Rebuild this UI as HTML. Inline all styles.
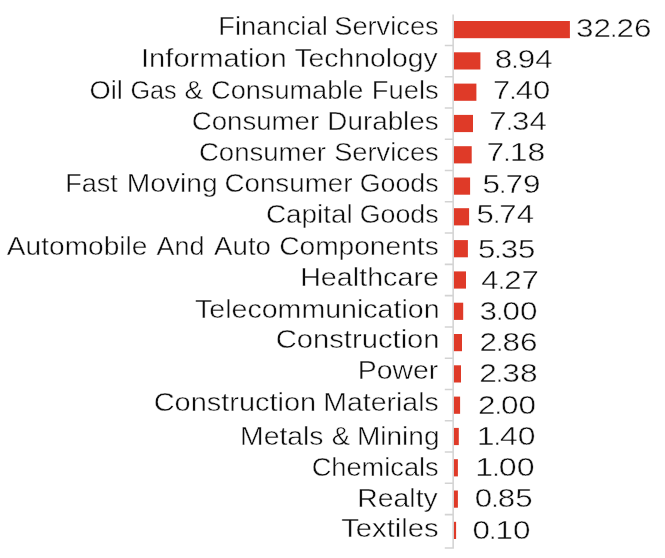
<!DOCTYPE html>
<html lang="en"><head><meta charset="utf-8"><title>Sector allocation</title>
<style>
html,body{margin:0;padding:0;background:#fff}
body{width:665px;height:558px;overflow:hidden}
svg{display:block;will-change:transform}
text{font-family:"Liberation Sans",sans-serif;font-size:25px;fill:#0d0d0d;stroke:#fff;stroke-width:.42px}
.ax{stroke:#d3d3d3;stroke-width:1.55;fill:none}
.b{fill:#df3a28}
</style></head><body>
<svg width="665" height="558" viewBox="0 0 665 558">
<rect width="665" height="558" fill="#fff"/>
<g>
<rect class="b" x="453.6" y="21.00" width="116.30" height="17.2"/>
<rect class="b" x="453.6" y="52.30" width="26.80" height="17.2"/>
<rect class="b" x="453.6" y="83.60" width="22.80" height="17.2"/>
<rect class="b" x="453.6" y="114.90" width="19.40" height="17.2"/>
<rect class="b" x="453.6" y="146.20" width="18.10" height="17.2"/>
<rect class="b" x="453.6" y="177.50" width="16.50" height="17.2"/>
<rect class="b" x="453.6" y="208.20" width="15.50" height="17.2"/>
<rect class="b" x="453.6" y="240.10" width="14.30" height="17.2"/>
<rect class="b" x="453.6" y="271.40" width="12.40" height="17.2"/>
<rect class="b" x="453.6" y="302.70" width="9.60" height="17.2"/>
<rect class="b" x="453.6" y="334.00" width="8.40" height="17.2"/>
<rect class="b" x="453.6" y="365.30" width="7.40" height="17.2"/>
<rect class="b" x="453.6" y="396.60" width="6.50" height="17.2"/>
<rect class="b" x="453.6" y="427.90" width="5.20" height="17.2"/>
<rect class="b" x="453.6" y="459.20" width="4.30" height="17.2"/>
<rect class="b" x="453.6" y="490.50" width="4.30" height="17.2"/>
<rect class="b" x="453.6" y="521.80" width="2.50" height="17.2"/>
</g>
<path class="ax" d="M453.15 14.5V548.0M444.8 45.40H453.15M444.8 76.68H453.15M444.8 107.96H453.15M444.8 139.24H453.15M444.8 170.52H453.15M444.8 201.80H453.15M444.8 233.08H453.15M444.8 264.36H453.15M444.8 295.64H453.15M444.8 326.92H453.15M444.8 358.20H453.15M444.8 389.48H453.15M444.8 420.76H453.15M444.8 452.04H453.15M444.8 483.32H453.15M444.8 514.60H453.15M444.8 548.0H453.9"/>
<g>
<text y="35"><tspan x="218.26" textLength="109.47" lengthAdjust="spacingAndGlyphs">Financial</tspan> <tspan x="334.26" textLength="104.42" lengthAdjust="spacingAndGlyphs">Services</tspan></text>
<text y="67"><tspan x="141.01" textLength="145.78" lengthAdjust="spacingAndGlyphs">Information</tspan> <tspan x="294.46" textLength="143.29" lengthAdjust="spacingAndGlyphs">Technology</tspan></text>
<text y="99"><tspan x="89.61" textLength="33.31" lengthAdjust="spacingAndGlyphs">Oil</tspan> <tspan x="130.43" textLength="46.18" lengthAdjust="spacingAndGlyphs">Gas</tspan> <tspan x="184.41" textLength="18.83" lengthAdjust="spacingAndGlyphs">&amp;</tspan> <tspan x="211.12" textLength="152.28" lengthAdjust="spacingAndGlyphs">Consumable</tspan> <tspan x="371.75" textLength="66.93" lengthAdjust="spacingAndGlyphs">Fuels</tspan></text>
<text y="130"><tspan x="191.80" textLength="127.36" lengthAdjust="spacingAndGlyphs">Consumer</tspan> <tspan x="327.32" textLength="111.39" lengthAdjust="spacingAndGlyphs">Durables</tspan></text>
<text y="161"><tspan x="198.90" textLength="127.16" lengthAdjust="spacingAndGlyphs">Consumer</tspan> <tspan x="334.16" textLength="104.52" lengthAdjust="spacingAndGlyphs">Services</tspan></text>
<text y="192"><tspan x="65.28" textLength="52.62" lengthAdjust="spacingAndGlyphs">Fast</tspan> <tspan x="126.89" textLength="90.83" lengthAdjust="spacingAndGlyphs">Moving</tspan> <tspan x="224.49" textLength="127.97" lengthAdjust="spacingAndGlyphs">Consumer</tspan> <tspan x="359.75" textLength="78.91" lengthAdjust="spacingAndGlyphs">Goods</tspan></text>
<text y="223"><tspan x="265.93" textLength="86.83" lengthAdjust="spacingAndGlyphs">Capital</tspan> <tspan x="359.75" textLength="78.91" lengthAdjust="spacingAndGlyphs">Goods</tspan></text>
<text y="255"><tspan x="6.85" textLength="140.60" lengthAdjust="spacingAndGlyphs">Automobile</tspan> <tspan x="156.45" textLength="47.99" lengthAdjust="spacingAndGlyphs">And</tspan> <tspan x="214.05" textLength="56.92" lengthAdjust="spacingAndGlyphs">Auto</tspan> <tspan x="279.17" textLength="159.55" lengthAdjust="spacingAndGlyphs">Components</tspan></text>
<text y="286"><tspan x="300.15" textLength="138.83" lengthAdjust="spacingAndGlyphs">Healthcare</tspan></text>
<text y="318"><tspan x="195.06" textLength="244.50" lengthAdjust="spacingAndGlyphs">Telecommunication</tspan></text>
<text y="348"><tspan x="275.72" textLength="163.88" lengthAdjust="spacingAndGlyphs">Construction</tspan></text>
<text y="379"><tspan x="357.77" textLength="80.40" lengthAdjust="spacingAndGlyphs">Power</tspan></text>
<text y="411"><tspan x="153.73" textLength="162.45" lengthAdjust="spacingAndGlyphs">Construction</tspan> <tspan x="323.37" textLength="115.36" lengthAdjust="spacingAndGlyphs">Materials</tspan></text>
<text y="445"><tspan x="240.02" textLength="83.50" lengthAdjust="spacingAndGlyphs">Metals</tspan> <tspan x="331.73" textLength="18.51" lengthAdjust="spacingAndGlyphs">&amp;</tspan> <tspan x="356.90" textLength="82.61" lengthAdjust="spacingAndGlyphs">Mining</tspan></text>
<text y="476"><tspan x="311.72" textLength="126.96" lengthAdjust="spacingAndGlyphs">Chemicals</tspan></text>
<text y="507"><tspan x="357.37" textLength="80.38" lengthAdjust="spacingAndGlyphs">Realty</tspan></text>
<text y="537"><tspan x="341.24" textLength="97.51" lengthAdjust="spacingAndGlyphs">Textiles</tspan></text>
</g>
<g>
<text y="37"><tspan x="576.10" textLength="34.94" lengthAdjust="spacingAndGlyphs">32</tspan><tspan x="610.32">.</tspan><tspan x="616.54" textLength="34.94" lengthAdjust="spacingAndGlyphs">26</tspan></text>
<text y="68"><tspan x="494.73" textLength="17.50" lengthAdjust="spacingAndGlyphs">8</tspan><tspan x="511.50">.</tspan><tspan x="517.73" textLength="34.99" lengthAdjust="spacingAndGlyphs">94</tspan></text>
<text y="99"><tspan x="492.91" textLength="17.29" lengthAdjust="spacingAndGlyphs">7</tspan><tspan x="509.47">.</tspan><tspan x="515.69" textLength="34.57" lengthAdjust="spacingAndGlyphs">40</tspan></text>
<text y="130"><tspan x="489.25" textLength="17.35" lengthAdjust="spacingAndGlyphs">7</tspan><tspan x="505.88">.</tspan><tspan x="512.10" textLength="34.71" lengthAdjust="spacingAndGlyphs">34</tspan></text>
<text y="161"><tspan x="486.56" textLength="17.78" lengthAdjust="spacingAndGlyphs">7</tspan><tspan x="503.61">.</tspan><tspan x="509.84" textLength="35.55" lengthAdjust="spacingAndGlyphs">18</tspan></text>
<text y="193"><tspan x="482.54" textLength="17.50" lengthAdjust="spacingAndGlyphs">5</tspan><tspan x="499.31">.</tspan><tspan x="505.54" textLength="35.00" lengthAdjust="spacingAndGlyphs">79</tspan></text>
<text y="223"><tspan x="476.55" textLength="17.30" lengthAdjust="spacingAndGlyphs">5</tspan><tspan x="493.13">.</tspan><tspan x="499.36" textLength="34.60" lengthAdjust="spacingAndGlyphs">74</tspan></text>
<text y="258"><tspan x="477.90" textLength="17.34" lengthAdjust="spacingAndGlyphs">5</tspan><tspan x="494.51">.</tspan><tspan x="500.74" textLength="34.67" lengthAdjust="spacingAndGlyphs">35</tspan></text>
<text y="289"><tspan x="481.38" textLength="17.36" lengthAdjust="spacingAndGlyphs">4</tspan><tspan x="498.02">.</tspan><tspan x="504.25" textLength="34.72" lengthAdjust="spacingAndGlyphs">27</tspan></text>
<text y="320"><tspan x="479.60" textLength="17.47" lengthAdjust="spacingAndGlyphs">3</tspan><tspan x="496.35">.</tspan><tspan x="502.58" textLength="34.95" lengthAdjust="spacingAndGlyphs">00</tspan></text>
<text y="351"><tspan x="479.57" textLength="17.47" lengthAdjust="spacingAndGlyphs">2</tspan><tspan x="496.31">.</tspan><tspan x="502.54" textLength="34.94" lengthAdjust="spacingAndGlyphs">86</tspan></text>
<text y="382"><tspan x="479.21" textLength="17.59" lengthAdjust="spacingAndGlyphs">2</tspan><tspan x="496.07">.</tspan><tspan x="502.30" textLength="35.18" lengthAdjust="spacingAndGlyphs">38</tspan></text>
<text y="414"><tspan x="478.02" textLength="17.50" lengthAdjust="spacingAndGlyphs">2</tspan><tspan x="494.79">.</tspan><tspan x="501.02" textLength="35.01" lengthAdjust="spacingAndGlyphs">00</tspan></text>
<text y="445"><tspan x="476.72" textLength="17.78" lengthAdjust="spacingAndGlyphs">1</tspan><tspan x="493.77">.</tspan><tspan x="499.99" textLength="35.56" lengthAdjust="spacingAndGlyphs">40</tspan></text>
<text y="476"><tspan x="475.35" textLength="17.90" lengthAdjust="spacingAndGlyphs">1</tspan><tspan x="492.52">.</tspan><tspan x="498.75" textLength="35.81" lengthAdjust="spacingAndGlyphs">00</tspan></text>
<text y="507"><tspan x="474.88" textLength="17.41" lengthAdjust="spacingAndGlyphs">0</tspan><tspan x="491.56">.</tspan><tspan x="497.79" textLength="34.82" lengthAdjust="spacingAndGlyphs">85</tspan></text>
<text y="539"><tspan x="472.57" textLength="17.49" lengthAdjust="spacingAndGlyphs">0</tspan><tspan x="489.33">.</tspan><tspan x="495.56" textLength="34.97" lengthAdjust="spacingAndGlyphs">10</tspan></text>
</g>
</svg></body></html>
